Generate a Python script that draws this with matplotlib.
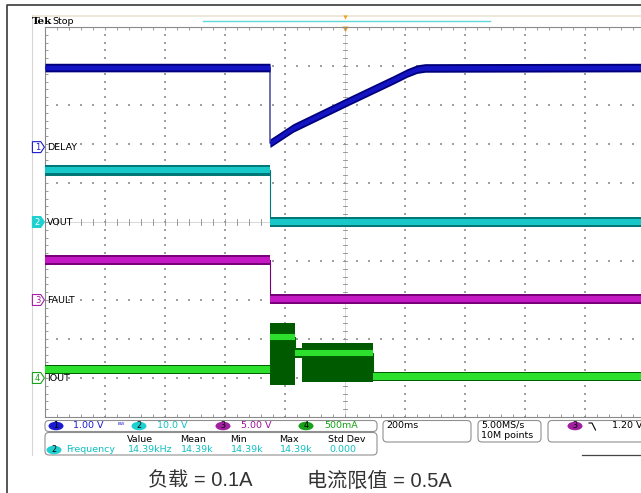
import numpy as np
import matplotlib.pyplot as plt
from matplotlib.patches import FancyBboxPatch, Ellipse, Polygon, Rectangle

plt.rcParams['font.family'] = ['DejaVu Sans']

# 时间轴: ms, 触发点在屏幕中央, 200ms/div
# CH1 DELAY (V)
t_delay = [-1000, -250, -250, -173, 7, 160, 207, 240, 267, 1000]
v_delay = [2.04, 2.04, 0.10, 0.49, 1.16, 1.72, 1.90, 2.00, 2.03, 2.04]
# CH2 VOUT (V)
t_vout = [-1000, -250, -250, 1000]
v_vout = [13.3, 13.3, 0.0, 0.0]
# CH3 FAULT (V)
t_fault = [-1000, -250, -250, 1000]
v_fault = [5.1, 5.1, 0.1, 0.1]
# CH4 IOUT (A) - 中心亮线
t_iout = [-1000, -250, -250, -167, -167, 93, 93, 1000]
v_iout = [0.11, 0.11, 0.53, 0.53, 0.32, 0.32, 0.02, 0.02]
# IOUT 开关突发区包络
burst_start = [-250, -143]
burst_end = [-167, 93]
burst_lo = [-0.09, -0.05]
burst_hi = [0.70, 0.45]

# 通道: 名称, 刻度(单位/div), 位置(div)
ch_names = ['DELAY', 'VOUT', 'FAULT', 'IOUT']
ch_scale = [1.0, 10.0, 5.0, 0.5]
ch_offset = [1.92, 0.0, -2.0, -4.0]
ch_dark = ['#00007a', '#007878', '#780078', '#006000']
ch_bright = ['#1414c4', '#18c8c8', '#c418c4', '#2ee02e']
ch_text = ['#1a1ad0', '#10c0c0', '#9a109a', '#10a010']
ch_badge = ['#1a1ad0', '#20d0d0', '#a020a0', '#18a018']

scale_labels = ['1.00 V', '10.0 V', '5.00 V', '500mA']
meas_heads = ['Value', 'Mean', 'Min', 'Max', 'Std Dev']
meas_vals = ['14.39kHz', '14.39k', '14.39k', '14.39k', '0.000']

fig = plt.figure(figsize=(6.41, 4.93), dpi=100)

# 背景层 (像素坐标)
bg = fig.add_axes([0, 0, 1, 1])
bg.set_xlim(0, 641)
bg.set_ylim(493, 0)
bg.axis('off')
bg.plot([7, 7, 641], [493, 5, 5], color='#3a3a3a', lw=1.2)
bg.plot([32, 32], [15, 455], color='#d6d6d6', lw=0.8)
bg.add_patch(Rectangle((32, 14.5), 609, 2.5, color='#eee8da', lw=0))
bg.plot([203, 490], [21, 21], color='#60d8d8', lw=1)
bg.text(32, 22, 'Tek', fontsize=7.5, fontweight='bold', family='DejaVu Serif', va='center')
bg.text(52, 21.5, 'Stop', fontsize=6.8, va='center')
bg.plot(345, 16.5, marker='v', color='#f0a020', ms=3, mec='none')
bg.plot(345, 29, marker='v', color='#f0a020', ms=5, mec='none')

# 示波器栅格
ax = fig.add_axes([45 / 641, 76 / 493, 600 / 641, 390 / 493])
ax.set_xlim(-1000, 1000)
ax.set_ylim(-5, 5)
ax.set_facecolor('none')
for s in ax.spines.values():
    s.set_color('#8a8a8a')
    s.set_linewidth(0.8)
ax.set_xticks(np.arange(-1000, 1001, 200))
ax.set_xticks(np.arange(-1000, 1001, 40), minor=True)
ax.set_yticks(np.arange(-5, 6, 1))
ax.set_yticks(np.arange(-5, 5.01, 0.2), minor=True)
ax.tick_params(which='both', direction='in', length=2.5, width=0.6, color='#8a8a8a',
               top=True, right=True, labelbottom=False, labelleft=False)

gx = np.arange(-1000, 1001, 40)
gy = np.arange(-5, 5.01, 0.2)
for yy in range(-4, 5):
    if yy != 0:
        ax.scatter(gx, np.full(gx.shape, yy), s=0.6, color='#a0a0a0', marker='s', lw=0, zorder=1)
for xx in range(-800, 801, 200):
    if xx != 0:
        ax.scatter(np.full(gy.shape, xx), gy, s=0.6, color='#a0a0a0', marker='s', lw=0, zorder=1)
ax.axhline(0, color='#c8c8c8', lw=0.5, zorder=1)
ax.axvline(0, color='#c8c8c8', lw=0.5, zorder=1)
for xx in gx:
    ax.plot([xx, xx], [-0.08, 0.08], color='#8a8a8a', lw=0.6, zorder=1)
for yy in gy:
    ax.plot([-8, 8], [yy, yy], color='#8a8a8a', lw=0.6, zorder=1)


def trace(t, v, i, hw_dark=0.12, hw_bright=0.07):
    y = np.asarray(v) / ch_scale[i] + ch_offset[i]
    ax.plot(t, y, color=ch_dark[i], lw=0.8, zorder=3 + i)
    ax.fill_between(t, y - hw_dark, y + hw_dark, color=ch_dark[i], lw=0, zorder=3 + i)
    ax.fill_between(t, y - hw_bright, y + hw_bright, color=ch_bright[i], lw=0, zorder=3 + i)


trace(t_delay, v_delay, 0, hw_dark=0.11, hw_bright=0.06)
trace(t_vout, v_vout, 1, hw_dark=0.14, hw_bright=0.08)
trace(t_fault, v_fault, 2, hw_dark=0.13, hw_bright=0.08)
for a, b, lo, hi in zip(burst_start, burst_end, burst_lo, burst_hi):
    ax.fill_between([a, b], lo / ch_scale[3] + ch_offset[3], hi / ch_scale[3] + ch_offset[3],
                    color='#005a00', lw=0, zorder=6)
trace(t_iout, v_iout, 3, hw_dark=0.12, hw_bright=0.08)

# 通道标记与标签
tr = ax.get_yaxis_transform()
for i, name in enumerate(ch_names):
    y = ch_offset[i]
    filled = (i == 1)
    pts = [(-0.021, y - 0.14), (-0.007, y - 0.14), (-0.001, y), (-0.007, y + 0.14), (-0.021, y + 0.14)]
    ax.add_patch(Polygon(pts, closed=True, transform=tr, clip_on=False,
                         fc=ch_badge[i] if filled else 'white', ec=ch_badge[i], lw=0.8, zorder=8))
    ax.text(-0.0125, y, str(i + 1), transform=tr, fontsize=6, ha='center', va='center',
            color='white' if filled else ch_badge[i], clip_on=False, zorder=9)
    ax.text(0.004, y, name, transform=tr, fontsize=6.8, ha='left', va='center', color='black', zorder=9)

# 状态栏
def box(x0, y0, x1, y1):
    bg.add_patch(FancyBboxPatch((x0, y0), x1 - x0, y1 - y0,
                                boxstyle='round,pad=0,rounding_size=4', fc='white', ec='#909090', lw=0.8))

box(45, 420.5, 377, 431.5)
box(45, 432.5, 377, 455)
box(383, 420.5, 471, 442)
box(478, 420.5, 541, 442)
box(548, 420.5, 660, 442)
bg.plot([582, 641], [455, 455], color='#444444', lw=0.9)


def badge(xc, yc, n, col):
    bg.add_patch(Ellipse((xc, yc), 15, 8.5, fc=col, ec='none'))
    bg.text(xc, yc, n, fontsize=5.8, ha='center', va='center', color='black')

badge_x = [56, 139, 223, 306]
label_x = [73, 157, 241, 324]
for i in range(4):
    badge(badge_x[i], 426, str(i + 1), ch_badge[i])
    bg.text(label_x[i], 426, scale_labels[i], fontsize=6.8, va='center', color=ch_text[i])
bg.text(118, 426, 'ᴮᵂ', fontsize=5, va='center', color=ch_text[0])
bg.text(386, 425, '200ms', fontsize=6.8, va='center')
bg.text(481, 425, '5.00MS/s', fontsize=6.8, va='center')
bg.text(481, 436, '10M points', fontsize=6.8, va='center')
badge(575, 426, '3', ch_badge[2])
bg.plot([589, 592, 595.5], [423, 423, 430], color='black', lw=0.8)
bg.text(612, 426, '1.20 V', fontsize=6.8, va='center')

meas_x = [127, 180, 230, 279, 328]
for x, h, v in zip(meas_x, meas_heads, meas_vals):
    bg.text(x, 439.5, h, fontsize=6.8, va='center', color='black')
    bg.text(x + 1, 450, v, fontsize=6.8, va='center', color=ch_text[1])
badge(54, 450, '2', ch_badge[1])
bg.text(66, 450, 'Frequency', fontsize=6.8, va='center', color=ch_text[1])

# 标题说明
cap = dict(fontsize=14.5, va='center', color='#333333', family=['Liberation Sans', 'Noto Sans CJK SC'])
bg.text(148, 481, '负载 = 0.1A', **cap)
bg.text(307, 481, '电流限值 = 0.5A', **cap)

fig.savefig('out.png', dpi=100)
